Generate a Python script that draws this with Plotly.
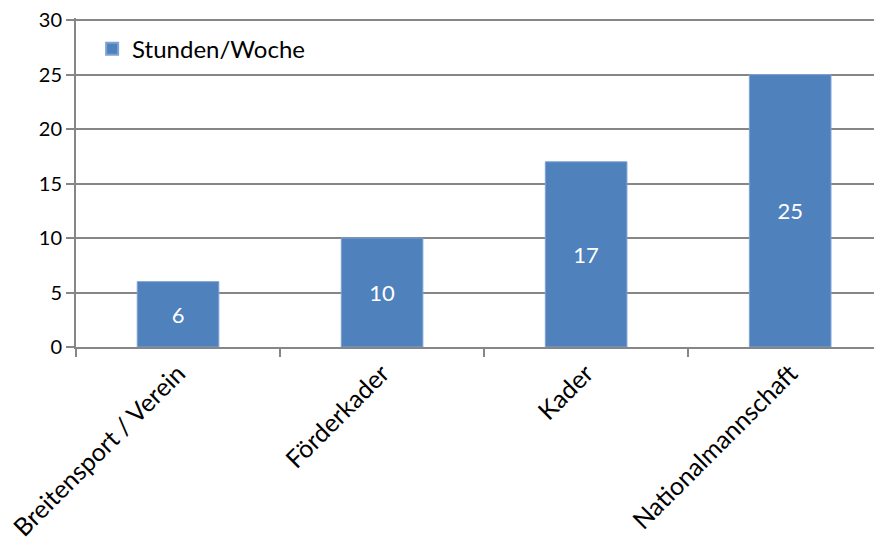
import plotly.graph_objects as go

categories = ["Breitensport / Verein", "Förderkader", "Kader", "Nationalmannschaft"]
values = [6, 10, 17, 25]
series_name = "Stunden/Woche"
y_ticks = [0, 5, 10, 15, 20, 25, 30]

FONT = "Lato"

fig = go.Figure()
fig.add_trace(go.Bar(
    x=categories, y=values, name=series_name,
    marker=dict(color="#4F81BD", line=dict(color="#7EA3D3", width=1)),
    width=0.4,
    text=[str(v) for v in values], textposition="inside",
    insidetextanchor="middle",
    textfont=dict(color="white", size=22, family=FONT),
    showlegend=True,
))

fig.update_layout(
    width=882, height=543,
    margin=dict(l=68, r=8, t=10, b=204),
    paper_bgcolor="white", plot_bgcolor="white",
    font=dict(family=FONT, size=22, color="black"),
    showlegend=True,
    legend=dict(x=0.02, y=0.905, xanchor="left", yanchor="middle",
                bgcolor="rgba(0,0,0,0)", font=dict(size=24, family=FONT),
                itemsizing="constant"),
    xaxis=dict(
        type="category", range=[-0.5, 3.45], automargin=False,
        showgrid=False, showline=True, linecolor="#868686", linewidth=2,
        ticks="outside", tickson="boundaries", ticklen=8, tickwidth=2,
        tickcolor="#868686", tickangle=-45,
        tickfont=dict(size=25, family=FONT),
    ),
    yaxis=dict(
        range=[0, 30.2], tickvals=y_ticks, automargin=False,
        ticklabeloverflow="allow",
        showgrid=True, gridcolor="#868686", gridwidth=2,
        showline=True, linecolor="#868686", linewidth=2,
        ticks="outside", ticklen=8, tickwidth=2, tickcolor="#868686",
        tickfont=dict(size=20, family=FONT), zeroline=False,
    ),
)

fig.write_html("out.html")
